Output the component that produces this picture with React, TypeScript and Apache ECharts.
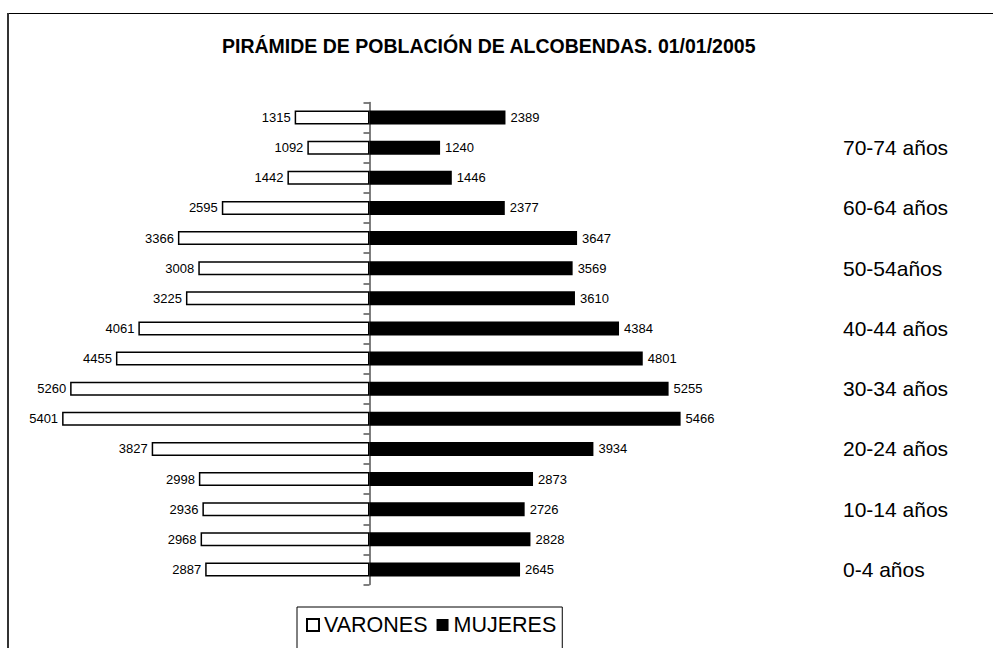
import React, { useEffect, useRef } from "react";
import * as echarts from "echarts";

const ageGroups = [
  "0-4 años", "5-9 años", "10-14 años", "15-19 años", "20-24 años", "25-29 años",
  "30-34 años", "35-39 años", "40-44 años", "45-49 años", "50-54años", "55-59 años",
  "60-64 años", "65-69 años", "70-74 años", "75 y más años",
];
const varones = [2887, 2968, 2936, 2998, 3827, 5401, 5260, 4455, 4061, 3225, 3008, 3366, 2595, 1442, 1092, 1315];
const mujeres = [2645, 2828, 2726, 2873, 3934, 5466, 5255, 4801, 4384, 3610, 3569, 3647, 2377, 1446, 1240, 2389];
const titleText = "PIRÁMIDE DE POBLACIÓN DE ALCOBENDAS. 01/01/2005";

const FONT = "'Liberation Sans', Arial, sans-serif";

export default function App() {
  const ref = useRef<HTMLDivElement>(null);
  useEffect(() => {
    document.body.style.margin = "0";
    const chart = echarts.init(ref.current!, null, { renderer: "svg" });
    chart.setOption({
      animation: false,
      backgroundColor: "#fff",
      textStyle: { fontFamily: FONT },
      title: {
        text: titleText,
        left: 217,
        top: 31,
        textStyle: { fontFamily: FONT, fontSize: 19.5, fontWeight: "bold", color: "#000" },
      },
      graphic: [
        { type: "line", shape: { x1: 8, y1: 13.5, x2: 993, y2: 13.5 }, style: { stroke: "#000", lineWidth: 1 } },
        { type: "line", shape: { x1: 8, y1: 13, x2: 8, y2: 648 }, style: { stroke: "#333", lineWidth: 2 } },
      ],
      legend: {
        left: 297,
        top: 607,
        padding: [7, 6, 20, 9],
        itemWidth: 12,
        itemHeight: 12,
        itemGap: 9,
        borderColor: "#000",
        borderWidth: 1,
        icon: "rect",
        textStyle: { fontFamily: FONT, fontSize: 21.5, color: "#000" },
        data: ["VARONES", "MUJERES"],
      },
      grid: { left: 28, right: 282, top: 102.5, height: 482 },
      xAxis: {
        type: "value",
        min: -6000,
        max: 6000,
        show: false,
      },
      yAxis: [
        {
          type: "category",
          data: ageGroups,
          position: "left",
          axisLine: { show: true, onZero: true, lineStyle: { color: "#555", width: 1.5 } },
          axisTick: { show: true, length: 6, inside: false, lineStyle: { color: "#555", width: 1.5 } },
          axisLabel: { show: false },
        },
        {
          type: "category",
          data: ageGroups,
          position: "right",
          axisLine: { show: false },
          axisTick: { show: false },
          axisLabel: {
            show: true,
            interval: 1,
            margin: 132,
            fontFamily: FONT,
            fontSize: 21,
            color: "#000",
            padding: [0, 0, 6, 0],
          },
        },
      ],
      series: [
        {
          name: "VARONES",
          type: "bar",
          stack: "p",
          yAxisIndex: 0,
          barWidth: 14,
          data: varones.map((v) => -v),
          itemStyle: { color: "#fff", borderColor: "#000", borderWidth: 1.5 },
          label: {
            show: true,
            position: "left",
            distance: 4,
            formatter: (p: any) => String(Math.abs(p.value)),
            fontFamily: FONT,
            fontSize: 13,
            color: "#000",
          },
        },
        {
          name: "MUJERES",
          type: "bar",
          stack: "p",
          yAxisIndex: 0,
          barWidth: 14,
          data: mujeres,
          itemStyle: { color: "#000" },
          label: {
            show: true,
            position: "right",
            distance: 5,
            fontFamily: FONT,
            fontSize: 13,
            color: "#000",
          },
        },
      ],
    });
    return () => chart.dispose();
  }, []);
  return <div ref={ref} style={{ width: 993, height: 648 }} />;
}
